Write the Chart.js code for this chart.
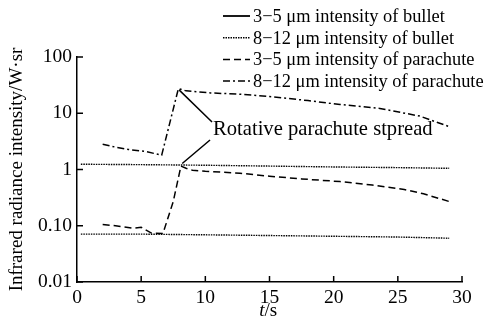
<!DOCTYPE html>
<html>
<head>
<meta charset="utf-8">
<script src="https://cdn.jsdelivr.net/npm/chart.js@4/dist/chart.umd.min.js"></script>
<style>
  html, body { margin: 0; padding: 0; background: #fff; }
  canvas { display: block; }
</style>
</head>
<body>
<canvas id="irChart" width="486" height="327"></canvas>
<script>
// datos
const tBullet = [0.3, 5, 10, 15, 20, 25, 29];
const bullet35 = [0.071, 0.071, 0.069, 0.067, 0.065, 0.063, 0.060];
const bullet812 = [1.24, 1.22, 1.19, 1.15, 1.11, 1.08, 1.05];

const tPara35 = [2, 3, 4.4, 5, 5.8, 6.7, 7.5, 8.1, 8.5, 9, 10, 12.7, 15, 17.5, 20.5, 23, 25.5, 27, 29];
const para35 = [0.105, 0.1, 0.09, 0.094, 0.074, 0.073, 0.27, 1.15, 1.05, 0.97, 0.93, 0.86, 0.76, 0.68, 0.61, 0.53, 0.44, 0.37, 0.27];

const tPara812 = [2, 3, 4, 5.3, 6.6, 7.9, 8.5, 10.4, 12.7, 15, 18, 20.5, 23.6, 26.7, 29];
const para812 = [2.8, 2.5, 2.27, 2.1, 1.8, 27.4, 25, 23, 21.8, 19.8, 16.8, 14.3, 12.2, 8.9, 5.8];

const xTicks = [0, 5, 10, 15, 20, 25, 30];
const yTicks = [0.01, 0.1, 1, 10, 100];
const yTickLabels = ['0.01', '0.10', '1', '10', '100'];

const seriesNames = [
  '3\u22125 \u03bcm intensity of bullet',
  '8\u221212 \u03bcm intensity of bullet',
  '3\u22125 \u03bcm intensity of parachute',
  '8\u221212 \u03bcm intensity of parachute'
];
const annotationText = 'Rotative parachute stpread';

const serif = "'Liberation Serif', 'DejaVu Serif', serif";
const dotted = [1.5, 1];
const dashed = [7, 4];
const dashDot = [7, 3, 2, 3];

function pts(xs, ys) {
  return xs.map((x, i) => ({ x: x, y: ys[i] }));
}

// ticks hacia dentro, leyenda y anotacion
const extras = {
  id: 'extras',
  afterDraw(chart) {
    const c = chart.ctx;
    const sx = chart.scales.x;
    const sy = chart.scales.y;
    const area = chart.chartArea;
    c.save();
    c.strokeStyle = '#000';
    c.fillStyle = '#000';
    c.lineWidth = 1.5;
    c.setLineDash([]);
    xTicks.forEach(v => {
      const px = sx.getPixelForValue(v);
      c.beginPath();
      c.moveTo(px, area.bottom);
      c.lineTo(px, area.bottom - 6);
      c.stroke();
    });
    yTicks.forEach(v => {
      const py = sy.getPixelForValue(v);
      c.beginPath();
      c.moveTo(area.left, py);
      c.lineTo(area.left + 6, py);
      c.stroke();
    });

    // leyenda
    const dashes = [[], dotted, dashed, dashDot];
    c.font = '18.4px ' + serif;
    c.textBaseline = 'middle';
    c.textAlign = 'left';
    seriesNames.forEach((name, i) => {
      const y = 16 + i * 21.7;
      c.setLineDash(dashes[i]);
      c.lineWidth = i === 0 ? 1.8 : 1.5;
      c.beginPath();
      c.moveTo(223, y);
      c.lineTo(250, y);
      c.stroke();
      c.setLineDash([]);
      c.fillText(name, 253, y + 1);
    });

    // anotacion
    const tx = sx.getPixelForValue(10.6);
    const ty = 130;
    c.font = '20.6px ' + serif;
    c.fillText(annotationText, tx, ty);
    c.lineWidth = 1.5;
    c.beginPath();
    c.moveTo(sx.getPixelForValue(7.95), sy.getPixelForValue(26));
    c.lineTo(tx - 1, ty - 8);
    c.moveTo(sx.getPixelForValue(8.2), sy.getPixelForValue(1.28));
    c.lineTo(tx - 3, ty + 10);
    c.stroke();

    // titulo eje x
    c.textAlign = 'left';
    c.font = 'italic 19px ' + serif;
    const sxT = sx.getPixelForValue(14.2);
    c.fillText('t', sxT, 311);
    const tw = c.measureText('t').width;
    c.font = '19px ' + serif;
    c.fillText('/s', sxT + tw, 311);
    c.restore();
  }
};

new Chart(document.getElementById('irChart').getContext('2d'), {
  type: 'line',
  data: {
    datasets: [
      { label: seriesNames[0], data: pts(tBullet, bullet35), borderColor: '#000', borderWidth: 1.4, borderDash: dotted },
      { label: seriesNames[1], data: pts(tBullet, bullet812), borderColor: '#000', borderWidth: 1.4, borderDash: dotted },
      { label: seriesNames[2], data: pts(tPara35, para35), borderColor: '#000', borderWidth: 1.5, borderDash: dashed },
      { label: seriesNames[3], data: pts(tPara812, para812), borderColor: '#000', borderWidth: 1.5, borderDash: dashDot }
    ]
  },
  options: {
    responsive: false,
    animation: false,
    devicePixelRatio: 1,
    layout: { padding: { left: 0, top: 57, right: 24, bottom: 0 } },
    elements: { point: { radius: 0 }, line: { tension: 0 } },
    plugins: { legend: { display: false }, tooltip: { enabled: false } },
    scales: {
      x: {
        type: 'linear',
        min: 0,
        max: 30,
        afterBuildTicks: s => { s.ticks = xTicks.map(v => ({ value: v })); },
        afterFit: s => { s.height = 45; },
        ticks: { font: { family: serif, size: 19.5 }, color: '#000', padding: 4, maxRotation: 0 },
        grid: { display: true, drawOnChartArea: false, drawTicks: false },
        border: { display: true, color: '#000', width: 1.5 }
      },
      y: {
        type: 'logarithmic',
        min: 0.01,
        max: 100,
        afterBuildTicks: s => { s.ticks = yTicks.map(v => ({ value: v })); },
        afterFit: s => { s.width = 77; },
        ticks: {
          font: { family: serif, size: 19.5 },
          color: '#000',
          padding: 5,
          callback: v => yTickLabels[yTicks.indexOf(v)]
        },
        grid: { display: true, drawOnChartArea: false, drawTicks: false },
        border: { display: true, color: '#000', width: 1.5 },
        title: {
          display: true,
          text: 'Infrared radiance intensity/W\u00b7sr',
          font: { family: serif, size: 19 },
          color: '#000',
          padding: { top: 6, bottom: 0 }
        }
      }
    }
  },
  plugins: [extras]
});
</script>
</body>
</html>
